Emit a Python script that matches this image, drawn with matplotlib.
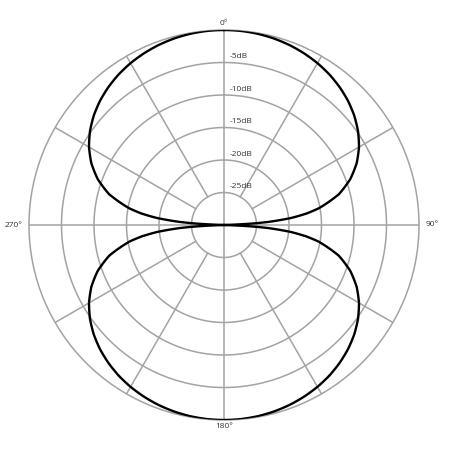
import numpy as np
import matplotlib
matplotlib.use("Agg")
import matplotlib.pyplot as plt
import matplotlib.transforms as mtransforms

# Figure-8 (bidirectional) polar pattern, one quadrant (deg -> dB)
quad_angles = [0, 5, 10, 15, 20, 25, 30, 35, 40, 45, 50, 55, 60, 65, 70, 75,
               80, 82, 84, 86, 87, 88, 89, 90]
quad_db = [0.0, -0.03, -0.13, -0.3, -0.54, -0.86, -1.25, -1.73, -2.32, -3.01,
           -3.84, -4.83, -6.02, -7.48, -9.32, -11.7, -15.2, -17.1, -19.6,
           -23.1, -25.6, -29.1, -30.0, -30.0]

ring_levels = [-5, -10, -15, -20, -25]
ring_labels = ["-5dB", "-10dB", "-15dB", "-20dB", "-25dB"]
angle_labels = ["0°", "90°", "180°", "270°"]
spoke_angles = [30, 60, 120, 150, 210, 240, 300, 330]

# mirror the quadrant to get the full pattern
qa = np.array(quad_angles, dtype=float)
qd = np.array(quad_db)
angles = np.concatenate([qa, 180 - qa[::-1], 180 + qa, 360 - qa[::-1]])
values = np.concatenate([qd, qd[::-1], qd, qd[::-1]])

grid_col = "#a3a3a3"
txt_col = "#333333"
font = "Open Sans"

fig = plt.figure(figsize=(4.5, 4.5), dpi=100)
ax = fig.add_axes([29 / 450, 30 / 450, 390 / 450, 390 / 450], projection="polar")
ax.set_theta_zero_location("N")
ax.set_theta_direction(-1)
ax.set_ylim(-30, 0)
ax.grid(False)
ax.set_xticks([])
ax.set_yticks([])
ax.spines["polar"].set_color(grid_col)
ax.spines["polar"].set_linewidth(1.1)

full = np.linspace(0, 2 * np.pi, 361)
for lvl in ring_levels:
    ax.plot(full, np.full_like(full, lvl), color=grid_col, lw=1.1, zorder=1)

for a in spoke_angles:
    ax.plot([np.radians(a)] * 2, [-25, 0], color=grid_col, lw=1.1, zorder=1)
for a in [0, 90, 180, 270]:
    ax.plot([np.radians(a)] * 2, [-30, 0], color=grid_col, lw=1.1, zorder=1)

pattern, = ax.plot(np.radians(angles), values, color="black", lw=1.7, zorder=3)
# draw each segment curved in polar space instead of as straight chords
pattern.get_path()._interpolation_steps = 40

# dB labels just above each ring, right of the 0° axis
off = mtransforms.offset_copy(ax.transData, fig=fig, x=4, y=1.5, units="points")
for lvl, lab in zip(ring_levels, ring_labels):
    ax.text(0, lvl, lab, transform=off, ha="left", va="bottom",
            fontsize=6, color=txt_col, family=font)

# angle labels outside the outer circle
for a, lab in zip([0, 90, 180, 270], angle_labels):
    t = np.radians(a)
    if a == 0:
        o = mtransforms.offset_copy(ax.transData, fig=fig, x=0, y=2, units="points")
        ha, va = "center", "bottom"
    elif a == 90:
        o = mtransforms.offset_copy(ax.transData, fig=fig, x=5, y=0, units="points")
        ha, va = "left", "center"
    elif a == 180:
        o = mtransforms.offset_copy(ax.transData, fig=fig, x=0, y=-2, units="points")
        ha, va = "center", "top"
    else:
        o = mtransforms.offset_copy(ax.transData, fig=fig, x=-5, y=0, units="points")
        ha, va = "right", "center"
    ax.text(t, 0, lab, transform=o, ha=ha, va=va, fontsize=6,
            color=txt_col, family=font, clip_on=False)

fig.savefig("out.png", dpi=100, facecolor="white")
